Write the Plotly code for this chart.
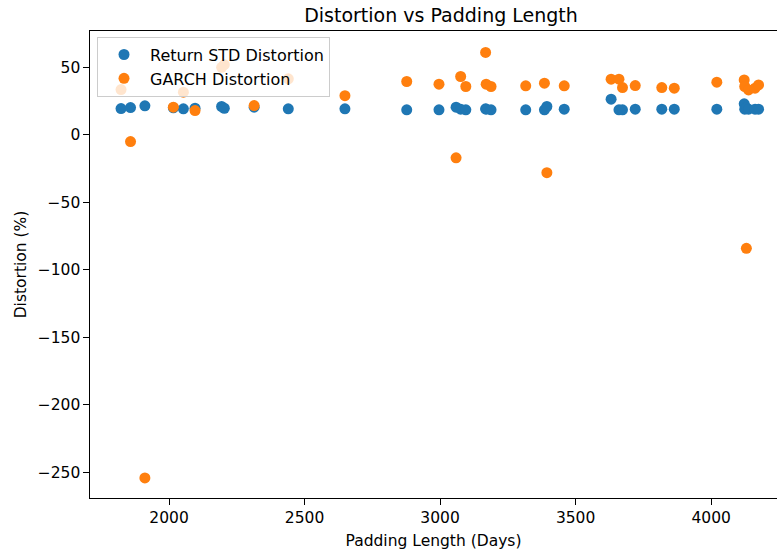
import plotly.graph_objects as go

padding_days = [1823, 1858, 1911, 2016, 2053, 2096, 2194, 2204, 2314, 2440,
                2649, 2877, 2996, 3059, 3076, 3095, 3168, 3170, 3188, 3316,
                3385, 3394, 3458, 3631, 3660, 3673, 3720, 3818, 3864, 4021,
                4122, 4124, 4130, 4138, 4162, 4175]
return_std_distortion = [19.5, 20.2, 21.5, 20.0, 19.3, 19.7, 21.0, 19.7, 20.5, 19.3,
                         19.3, 18.5, 18.5, 20.5, 19.0, 18.5, 19.3, 19.0, 18.5, 18.5,
                         18.5, 21.0, 19.0, 26.4, 18.5, 18.5, 19.0, 19.0, 19.0, 19.0,
                         23.0, 19.0, 20.0, 19.0, 19.0, 19.0]
garch_distortion = [33.5, -5.0, -254.0, 20.5, 31.6, 18.0, 50.0, 52.0, 21.7, 41.5,
                    29.0, 39.5, 37.5, -17.0, 43.2, 35.8, 61.0, 37.5, 35.8, 36.3,
                    38.3, -28.0, 36.3, 41.2, 41.2, 35.0, 36.5, 35.0, 34.6, 39.0,
                    40.7, 35.8, -84.0, 33.3, 34.6, 37.0]

x_ticks = [2000, 2500, 3000, 3500, 4000]
y_ticks = [-250, -200, -150, -100, -50, 0, 50]

W, H = 777, 554
ml, mr, mt, mb = 90, 0, 31, 554 - 498

fig = go.Figure()
fig.add_trace(go.Scatter(x=padding_days, y=return_std_distortion, mode="markers",
                         name="Return STD Distortion",
                         marker=dict(color="#1f77b4", size=11)))
fig.add_trace(go.Scatter(x=padding_days, y=garch_distortion, mode="markers",
                         name="GARCH Distortion",
                         marker=dict(color="#ff7f0e", size=11)))

axis_common = dict(showgrid=False, zeroline=False, showline=True, linecolor="black",
                   linewidth=1.2, ticks="outside", ticklen=5.5, tickwidth=1.2,
                   tickcolor="black", tickfont=dict(size=15.5, color="black"))

fig.update_layout(
    width=W, height=H,
    margin=dict(l=ml, r=mr, t=mt, b=mb, autoexpand=False),
    paper_bgcolor="white", plot_bgcolor="white",
    font=dict(family="DejaVu Sans", color="black"),
    title=dict(text="Distortion vs Padding Length", font=dict(size=19, color="black"),
               x=441 / W, xref="container", xanchor="center",
               y=1 - 15.5 / H, yref="container", yanchor="middle"),
    xaxis=dict(range=[1708.5, 4243], tickvals=x_ticks, mirror=True,
               title=dict(text="Padding Length (Days)", font=dict(size=15.5, color="black"),
                          standoff=8),
               **axis_common),
    yaxis=dict(range=[-268.9, 76.9], tickvals=y_ticks, mirror=False,
               title=dict(text="Distortion (%)", font=dict(size=15.5, color="black"),
                          standoff=7),
               **axis_common),
    legend=dict(x=0.0102, y=0.988, xanchor="left", yanchor="top",
                bgcolor="rgba(255,255,255,0.8)", bordercolor="#cccccc", borderwidth=1,
                itemwidth=42, font=dict(size=16, color="black")),
    showlegend=True,
)

fig.write_html("out.html", config={"displayModeBar": False},
               post_script="document.body.style.margin='0';document.body.style.padding='0';")
